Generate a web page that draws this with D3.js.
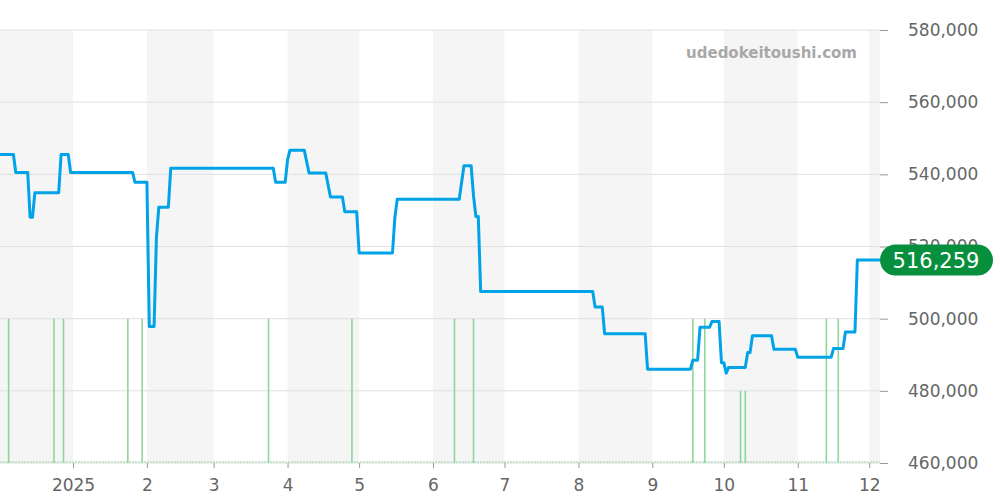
<!DOCTYPE html>
<html>
<head>
<meta charset="utf-8">
<script src="https://cdn.jsdelivr.net/npm/d3@7"></script>
<style>
body { margin: 0; background: #fff; }
svg { display: block; font-family: "DejaVu Sans", sans-serif; }
</style>
</head>
<body>
<svg width="1000" height="500"></svg>
<script>
// price history (step changes)
var priceDates = [
  "2024-12-01", "2024-12-07", "2024-12-08", "2024-12-13", "2024-12-14", "2024-12-15", "2024-12-16",
  "2024-12-26", "2024-12-27", "2024-12-30", "2024-12-31", "2025-01-26", "2025-01-27",
  "2025-02-01", "2025-02-02", "2025-02-04", "2025-02-05", "2025-02-06", "2025-02-10", "2025-02-11",
  "2025-03-26", "2025-03-27", "2025-03-31", "2025-04-01", "2025-04-02", "2025-04-08", "2025-04-10",
  "2025-04-17", "2025-04-19", "2025-04-24", "2025-04-25", "2025-04-30", "2025-05-01",
  "2025-05-15", "2025-05-16", "2025-05-17", "2025-06-12", "2025-06-14", "2025-06-17",
  "2025-06-18", "2025-06-19", "2025-06-20", "2025-06-21", "2025-08-07", "2025-08-08",
  "2025-08-11", "2025-08-12", "2025-08-29", "2025-08-30", "2025-09-17", "2025-09-18",
  "2025-09-20", "2025-09-21", "2025-09-25", "2025-09-26", "2025-09-29", "2025-09-30",
  "2025-10-01", "2025-10-02", "2025-10-03", "2025-10-10", "2025-10-11", "2025-10-12",
  "2025-10-13", "2025-10-21", "2025-10-22", "2025-10-31", "2025-11-01", "2025-11-15",
  "2025-11-16", "2025-11-20", "2025-11-21", "2025-11-25", "2025-11-26", "2025-12-06"
];
var priceValues = [
  545500, 545500, 540500, 540500, 528100, 528100, 534900,
  534900, 545500, 545500, 540500, 540500, 537800,
  537800, 497800, 497800, 522700, 530900, 530900, 541700,
  541700, 537800, 537800, 544000, 546700, 546700, 540400,
  540400, 533700, 533700, 529600, 529600, 518200,
  518200, 528000, 533100, 533100, 542400, 542400,
  534000, 528300, 528300, 507500, 507500, 503200,
  503200, 495800, 495800, 486000, 486000, 488500,
  488500, 497600, 497600, 499200, 499200, 487800,
  487800, 484900, 486500, 486500, 490600, 490600,
  495300, 495300, 491500, 491500, 489300, 489300,
  491700, 491700, 496300, 496300, 516259, 516259
];

// green marks at the bottom
var markDates = [
  "2024-12-05", "2024-12-24", "2024-12-28", "2025-01-24", "2025-01-30", "2025-03-24",
  "2025-04-28", "2025-06-10", "2025-06-18", "2025-09-18", "2025-09-23", "2025-10-08",
  "2025-10-10", "2025-11-13", "2025-11-18"
];
var markLevels = [
  500000, 500000, 500000, 500000, 500000, 500000,
  500000, 500000, 500000, 500000, 500000, 480000,
  480000, 500000, 500000
];

var yTicks = [460000, 480000, 500000, 520000, 540000, 560000, 580000];
var lastPrice = 516259;
var siteName = "udedokeitoushi.com";

var svg = d3.select("svg");
var plotW = 880, plotTop = 30, plotBottom = 463;
var parse = d3.utcParse("%Y-%m-%d");

var x = d3.scaleUtc()
    .domain([new Date(Date.UTC(2024, 11, 1, 9)), new Date(Date.UTC(2025, 11, 5, 12))])
    .range([0, plotW]);
var y = d3.scaleLinear().domain([460000, 580000]).range([plotBottom, plotTop]);

svg.append("clipPath").attr("id", "plot")
    .append("rect").attr("x", 0).attr("y", 0).attr("width", plotW).attr("height", 500);

// alternating month bands
var months = d3.utcMonth.range(new Date(Date.UTC(2024, 11, 1)), new Date(Date.UTC(2026, 0, 1)));
svg.append("g")
    .selectAll("rect")
    .data(months.filter(function (m) { return m.getUTCMonth() % 2 === 1; }))
    .enter().append("rect")
    .attr("x", function (m) { return Math.max(0, x(m)); })
    .attr("y", plotTop)
    .attr("width", function (m) { return Math.min(plotW, x(d3.utcMonth.offset(m, 1))) - Math.max(0, x(m)); })
    .attr("height", plotBottom - plotTop)
    .attr("fill", "#f5f5f5");

// grid
svg.append("g")
    .selectAll("line")
    .data(yTicks)
    .enter().append("line")
    .attr("x1", 0).attr("x2", plotW)
    .attr("y1", function (d) { return y(d); })
    .attr("y2", function (d) { return y(d); })
    .attr("stroke", "#e0e0e0");

// baseline dots and green marks
svg.append("line")
    .attr("x1", 0).attr("x2", plotW)
    .attr("y1", plotBottom - 1).attr("y2", plotBottom - 1)
    .attr("stroke", "#b8e0be").attr("stroke-width", 1.5)
    .attr("stroke-dasharray", "2,1");

svg.append("g")
    .selectAll("line")
    .data(markDates)
    .enter().append("line")
    .attr("x1", function (d) { return x(parse(d)); })
    .attr("x2", function (d) { return x(parse(d)); })
    .attr("y1", plotBottom)
    .attr("y2", function (d, i) { return y(markLevels[i]); })
    .attr("stroke", "#8ed69b").attr("stroke-width", 1.6);

// price line
var points = priceDates.map(function (d, i) { return [parse(d), priceValues[i]]; });
var line = d3.line()
    .x(function (d) { return x(d[0]); })
    .y(function (d) { return y(d[1]); });

svg.append("path")
    .datum(points)
    .attr("clip-path", "url(#plot)")
    .attr("d", line)
    .attr("fill", "none")
    .attr("stroke", "#00a3e8")
    .attr("stroke-width", 3)
    .attr("stroke-linejoin", "round");

// axes
var yAxis = svg.append("g")
    .attr("transform", "translate(" + plotW + ",0)")
    .call(d3.axisRight(y).tickValues(yTicks).tickSize(8).tickPadding(20).tickFormat(d3.format(",")));
yAxis.attr("font-family", "DejaVu Sans").attr("font-size", 17);
yAxis.select(".domain").remove();
yAxis.selectAll("line").attr("stroke", "#999");
yAxis.selectAll("text").attr("fill", "#666");

var xAxis = svg.append("g")
    .attr("transform", "translate(0," + plotBottom + ")")
    .call(d3.axisBottom(x)
        .ticks(d3.utcMonth.every(1))
        .tickSize(5)
        .tickPadding(11)
        .tickFormat(function (d) { return d.getUTCMonth() === 0 ? String(d.getUTCFullYear()) : String(d.getUTCMonth() + 1); }));
xAxis.attr("font-family", "DejaVu Sans").attr("font-size", 17);
xAxis.select(".domain").remove();
xAxis.selectAll(".tick").filter(function (d) { return x(d) < 10 || x(d) > plotW; }).remove();
xAxis.selectAll("line").attr("stroke", "#999");
xAxis.selectAll("text").attr("fill", "#666");

// watermark
svg.append("text")
    .attr("x", 857).attr("y", 58)
    .attr("text-anchor", "end")
    .attr("fill", "#a8a8a8")
    .style("font-size", "15px").style("font-weight", "bold")
    .text(siteName);

// last price badge
var badge = svg.append("g").attr("transform", "translate(" + plotW + "," + y(lastPrice) + ")");
badge.append("rect")
    .attr("x", 0).attr("y", -15.5)
    .attr("width", 113).attr("height", 31)
    .attr("rx", 15.5)
    .attr("fill", "#068f3c");
badge.append("text")
    .attr("x", 56).attr("y", 1)
    .attr("text-anchor", "middle")
    .attr("dominant-baseline", "central")
    .attr("fill", "#fff")
    .style("font-size", "21px")
    .text(d3.format(",")(lastPrice));
</script>
</body>
</html>
